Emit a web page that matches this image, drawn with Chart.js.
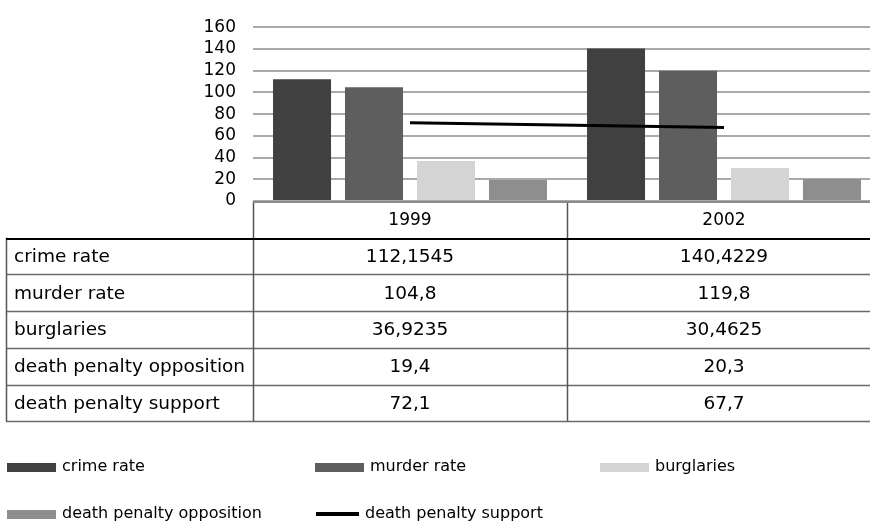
<!DOCTYPE html>
<html>
<head>
<meta charset="utf-8">
<script src="https://cdn.jsdelivr.net/npm/chart.js@4.4.1/dist/chart.umd.min.js"></script>
<style>
  html, body { margin: 0; padding: 0; background: #fff; }
  #wrap { width: 870px; height: 522px; overflow: hidden; }
  canvas { display: block; }
</style>
</head>
<body>
<div id="wrap"><canvas id="graph" width="884" height="522"></canvas></div>
<script>
// data (values also printed in its data table)
const years = ['1999', '2002'];
const crimeRate = [112.1545, 140.4229];
const murderRate = [104.8, 119.8];
const burglaries = [36.9235, 30.4625];
const dpOpposition = [19.4, 20.3];
const dpSupport = [72.1, 67.7];
const yMin = 0, yMax = 160, yStep = 20;

const FONT = '"DejaVu Sans", Verdana, sans-serif';

function fmt(v) {
  return String(v).replace('.', ',');
}

// draws the data table under the plot and the legend at the bottom
const tablePlugin = {
  id: 'dataTable',
  afterDraw(chart) {
    const ctx = chart.ctx;
    const xs = chart.scales.x;
    const area = chart.chartArea;
    const sets = chart.data.datasets;
    const colW = xs.width / years.length;
    const top = area.bottom;
    const rowH = 36.7;
    const left = 6;
    const right = chart.width;
    const bottom = top + rowH * (sets.length + 1);

    ctx.save();
    // row separators
    ctx.strokeStyle = '#6a6a6a';
    ctx.lineWidth = 1.5;
    for (let r = 2; r <= sets.length + 1; r++) {
      const y = Math.round(top + rowH * r) + 0.5;
      ctx.beginPath(); ctx.moveTo(left, y); ctx.lineTo(right, y); ctx.stroke();
    }
    // vertical lines
    ctx.strokeStyle = '#555';
    ctx.lineWidth = 1.5;
    ctx.beginPath();
    ctx.moveTo(left + 0.5, top + rowH); ctx.lineTo(left + 0.5, bottom);
    ctx.stroke();
    for (let i = 0; i <= years.length; i++) {
      const x = Math.round(xs.getPixelForValue(i) - colW / 2) + 0.5;
      ctx.beginPath(); ctx.moveTo(x, top); ctx.lineTo(x, bottom); ctx.stroke();
    }
    // header top line (axis zero line)
    ctx.strokeStyle = '#8a8a8a';
    ctx.lineWidth = 2;
    ctx.beginPath(); ctx.moveTo(area.left, top + 1); ctx.lineTo(right, top + 1); ctx.stroke();
    // heavy line under the header
    ctx.strokeStyle = '#000';
    ctx.lineWidth = 2;
    const hy = Math.round(top + rowH) + 1;
    ctx.beginPath(); ctx.moveTo(left, hy); ctx.lineTo(right, hy); ctx.stroke();

    // header text
    ctx.fillStyle = '#000';
    ctx.textBaseline = 'middle';
    ctx.textAlign = 'center';
    ctx.font = '17px ' + FONT;
    years.forEach((yr, i) => {
      ctx.fillText(yr, xs.getPixelForValue(i), top + rowH / 2 + 1);
    });

    // body rows
    ctx.font = '18.5px ' + FONT;
    sets.forEach((ds, r) => {
      const cy = top + rowH * (r + 1.5) + 1;
      ctx.textAlign = 'left';
      ctx.fillText(ds.label, 14, cy);
      ctx.textAlign = 'center';
      ds.data.forEach((v, i) => {
        ctx.fillText(fmt(v), xs.getPixelForValue(i), cy);
      });
    });

    // legend
    const slots = [
      { x: 7, y: 467 }, { x: 315, y: 467 }, { x: 600, y: 467 },
      { x: 7, y: 514 }, { x: 316, y: 514 }
    ];
    ctx.font = '16px ' + FONT;
    ctx.textAlign = 'left';
    sets.forEach((ds, i) => {
      const s = slots[i];
      if (ds.type === 'line') {
        ctx.fillStyle = ds.borderColor;
        ctx.fillRect(s.x, s.y - 2, 43, 4);
        ctx.fillStyle = '#000';
        ctx.fillText(ds.label, s.x + 49, s.y);
      } else {
        ctx.fillStyle = ds.backgroundColor;
        ctx.fillRect(s.x, s.y - 4, 49, 9);
        ctx.fillStyle = '#000';
        ctx.fillText(ds.label, s.x + 55, s.y);
      }
    });
    ctx.restore();
  }
};

const barOpts = { categoryPercentage: 0.917, barPercentage: 0.806, borderWidth: 0, order: 1 };

new Chart(document.getElementById('graph').getContext('2d'), {
  type: 'bar',
  data: {
    labels: years,
    datasets: [
      Object.assign({ label: 'crime rate', data: crimeRate, backgroundColor: '#404040' }, barOpts),
      Object.assign({ label: 'murder rate', data: murderRate, backgroundColor: '#5e5e5e' }, barOpts),
      Object.assign({ label: 'burglaries', data: burglaries, backgroundColor: '#d4d4d4' }, barOpts),
      Object.assign({ label: 'death penalty opposition', data: dpOpposition, backgroundColor: '#8e8e8e' }, barOpts),
      {
        type: 'line',
        label: 'death penalty support',
        data: dpSupport,
        borderColor: '#000',
        backgroundColor: '#000',
        borderWidth: 3,
        pointRadius: 0,
        tension: 0,
        order: 0
      }
    ]
  },
  options: {
    responsive: false,
    animation: false,
    layout: { padding: { left: 0, right: 3, top: 20, bottom: 321 } },
    plugins: { legend: { display: false }, tooltip: { enabled: false } },
    scales: {
      x: {
        offset: true,
        afterFit(scale) { scale.height = 0; },
        grid: { display: false },
        border: { display: false },
        ticks: { display: false }
      },
      y: {
        min: yMin,
        max: yMax,
        afterFit(scale) { scale.width = 253; },
        grid: { color: '#a9a9a9', lineWidth: 2, drawTicks: false },
        border: { display: false },
        ticks: {
          stepSize: yStep,
          autoSkip: false,
          padding: 17,
          color: '#000',
          font: { family: FONT, size: 17 }
        }
      }
    }
  },
  plugins: [tablePlugin]
});
</script>
</body>
</html>
